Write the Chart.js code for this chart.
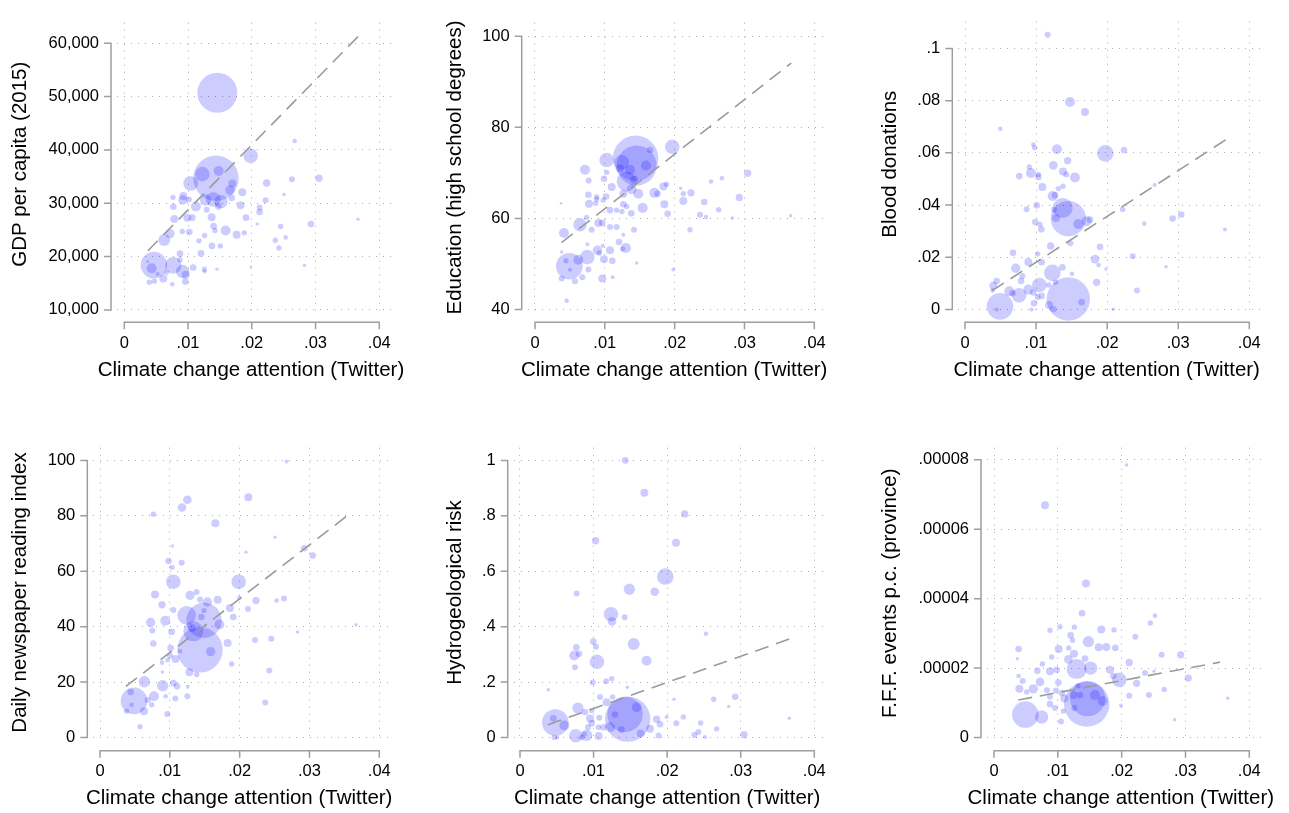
<!DOCTYPE html>
<html>
<head>
<meta charset="utf-8">
<script src="https://cdn.jsdelivr.net/npm/chart.js@4.4.0/dist/chart.umd.min.js"></script>
<style>
  body { margin: 0; background: #fff; }
  #wrap { position: relative; width: 1289px; height: 813px; overflow: hidden; background: #fff; }
  canvas { position: absolute; }
</style>
</head>
<body>
<div id="wrap">
  <canvas id="c1"></canvas><canvas id="c2"></canvas><canvas id="c3"></canvas>
  <canvas id="c4"></canvas><canvas id="c5"></canvas><canvas id="c6"></canvas>
</div>
<script>
// shared x axis
const attentionTicks = [0, 0.01, 0.02, 0.03, 0.04];
const xTitle = 'Climate change attention (Twitter)';

// GDP per capita
const gdpX = [0.01459,0.01438,0.01982,0.02672,0.03054,0.02630,0.02233,0.02505,0.01851,0.01694,
  0.01658,0.01480,0.01224,0.01041,0.00926,0.00763,0.00769,0.00920,0.01014,0.01124,
  0.01276,0.01396,0.01516,0.01684,0.01825,0.01475,0.01370,0.01292,0.01067,0.00988,
  0.00784,0.01909,0.02123,0.02123,0.02217,0.02086,0.02928,0.02452,0.02531,0.02369,
  0.02426,0.03666,0.01590,0.01762,0.01882,0.01401,0.01422,0.01260,0.01171,0.01375,
  0.01506,0.01203,0.01020,0.00910,0.00716,0.00627,0.00873,0.00873,0.00465,0.00429,
  0.00769,0.00915,0.00962,0.01082,0.01255,0.01260,0.01454,0.01982,0.02824,0.00612,
  0.00664,0.00392,0.00471,0.00753,0.00957,0.00366,0.00523];
const gdpY = [50700,34700,38900,41650,34700,34500,33800,31650,32050,33700,
  32450,36050,35450,33700,31350,31100,29350,30600,30700,29400,
  30600,30700,30300,31000,29600,29400,27350,28800,27300,27300,
  27050,27300,28350,29200,30550,26100,26100,25650,23600,23050,
  21600,27000,24900,24100,24450,25700,24900,23950,22950,22000,
  22000,20600,24600,24700,24300,23100,20550,19400,18400,17800,
  18350,17200,16600,17950,17650,17200,17650,18100,18350,15900,
  17050,15200,15400,14800,15300,19100,16750];
const gdpW = [1600,2061,213,21,55,36,55,12,64,64,
  88,100,213,213,64,29,44,88,36,100,
  130,213,180,44,64,44,64,36,44,64,
  64,44,44,36,36,12,44,29,21,29,
  29,12,100,64,29,44,29,29,29,44,
  29,44,44,29,88,144,44,29,708,100,
  276,180,64,44,29,16,12,7,12,64,
  29,29,29,21,44,7,16];
const gdpTicks = [10000, 20000, 30000, 40000, 50000, 60000];
const gdpFitX = [0.0037, 0.0368];
const gdpFitY = [21100, 61400];

// Education
const eduX = [0.01441,0.01456,0.01966,0.01026,0.01241,0.01217,0.01589,0.01647,0.01360,0.01422,
  0.01313,0.00716,0.00768,0.01026,0.00988,0.01098,0.01017,0.00978,0.00883,0.00869,
  0.00773,0.01265,0.01384,0.01480,0.01709,0.01756,0.01838,0.01885,0.01852,0.01542,
  0.01900,0.02086,0.02124,0.02124,0.02234,0.02425,0.02520,0.02678,0.03045,0.02926,
  0.02630,0.02363,0.02449,0.02826,0.03661,0.02220,0.01981,0.01456,0.01074,0.01169,
  0.01246,0.01265,0.01313,0.01379,0.01418,0.00740,0.00644,0.00811,0.00907,0.00964,
  0.01074,0.01169,0.01265,0.01203,0.01303,0.01255,0.01074,0.00969,0.00893,0.00921,
  0.00749,0.00988,0.01107,0.00749,0.00620,0.00492,0.00444,0.00501,0.00415,0.00372,
  0.00764,0.00678,0.00573,0.00382,0.00964,0.01112,0.00453,0.00382,0.00764,0.00883];
const eduY = [73.2,71.6,75.7,72.8,72.3,71.0,71.6,75.0,70.7,68.5,
  68.1,70.7,68.3,70.1,68.7,66.9,64.8,64.0,64.2,63.3,
  63.2,65.4,66.4,65.4,65.6,65.4,67.0,67.5,63.1,62.3,
  61.0,66.6,65.4,63.8,65.6,63.6,68.1,68.8,69.9,64.6,
  61.9,60.8,60.3,60.1,60.6,57.5,48.8,50.2,61.8,61.8,
  61.5,63.1,62.6,61.1,57.5,60.2,58.6,57.5,59.0,59.0,
  58.1,58.1,56.4,54.8,53.5,53.3,53.0,54.0,53.0,52.4,
  54.3,51.0,50.7,51.5,50.9,49.5,50.7,48.7,56.8,63.3,
  48.8,47.1,46.2,46.8,46.8,47.1,41.9,52.6,65.2,64.7];
const eduW = [2061,1600,213,213,213,64,100,44,100,64,
  400,100,36,29,44,64,44,29,29,29,
  64,64,100,100,100,44,64,29,64,100,
  44,12,29,64,54,44,21,21,54,54,
  29,36,21,12,12,29,16,12,44,29,
  29,44,29,44,36,29,178,36,64,44,
  36,36,16,44,100,29,64,16,88,29,
  16,64,44,213,100,708,29,16,100,7,
  36,36,36,36,64,16,21,12,44,29];
const eduTicks = [40, 60, 80, 100];
const eduFitX = [0.0038, 0.0367];
const eduFitY = [54.7, 94.1];

// Blood donations
const bloodX = [0.01454,0.01454,0.01374,0.00492,0.01974,0.01477,0.01688,0.01163,0.00497,0.01294,
  0.02237,0.00961,0.00980,0.01444,0.01243,0.01379,0.01547,0.01425,0.00928,0.01032,
  0.01032,0.00764,0.00905,0.01088,0.01313,0.01379,0.01233,0.01266,0.01008,0.00867,
  0.01252,0.01280,0.00989,0.01055,0.01074,0.01594,0.01711,0.01758,0.02218,0.02668,
  0.02921,0.03043,0.02523,0.03657,0.01205,0.01482,0.01899,0.00675,0.01022,0.00891,
  0.01078,0.01829,0.01880,0.01983,0.02359,0.02827,0.01229,0.01369,0.01505,0.00713,
  0.00807,0.00788,0.00445,0.00399,0.00389,0.00624,0.00670,0.00760,0.00891,0.01046,
  0.00961,0.01022,0.01078,0.00971,0.00938,0.01182,0.01243,0.01275,0.01641,0.01852,
  0.02420,0.02087,0.00445,0.01177];
const bloodY = [0.0040,0.0348,0.0389,0.0012,0.0598,0.0795,0.0756,0.1052,0.0692,0.0614,
  0.0611,0.0632,0.0620,0.0570,0.0552,0.0529,0.0506,0.0517,0.0523,0.0517,
  0.0507,0.0511,0.0546,0.0469,0.0463,0.0472,0.0435,0.0438,0.0399,0.0384,
  0.0382,0.0350,0.0335,0.0326,0.0307,0.0327,0.0338,0.0344,0.0383,0.0477,
  0.0348,0.0364,0.0329,0.0306,0.0243,0.0254,0.0240,0.0217,0.0213,0.0182,
  0.0181,0.0193,0.0170,0.0155,0.0204,0.0164,0.0140,0.0161,0.0137,0.0158,
  0.0128,0.0109,0.0109,0.0091,0.0073,0.0070,0.0062,0.0054,0.0076,0.0094,
  0.0065,0.0048,0.0052,0.0024,0.0000,0.0017,0.0001,0.0104,0.0028,0.0104,
  0.0073,0.0001,0.0000,0.0094];
const bloodW = [1878,1248,400,708,276,100,64,36,21,100,
  44,21,29,54,75,64,100,36,100,29,
  44,44,29,64,29,29,100,44,44,36,
  36,64,44,29,44,100,100,44,29,16,
  44,44,21,16,54,36,44,44,29,64,
  44,75,21,12,36,12,276,44,21,88,
  36,44,44,64,21,100,44,213,100,213,
  44,36,44,44,16,64,44,29,44,54,
  36,12,16,29];
const bloodTicks = [0, 0.02, 0.04, 0.06, 0.08, 0.1];
const bloodFitX = [0.0038, 0.0367];
const bloodFitY = [0.0072, 0.065];

// Daily newspaper reading index
const newsX = [0.01432,0.01489,0.01241,0.01336,0.01050,0.01986,0.01251,0.01174,0.02124,0.01651,
  0.00764,0.02673,0.02506,0.02090,0.02926,0.03045,0.01036,0.00983,0.01169,0.01031,
  0.00788,0.00888,0.00935,0.00725,0.00749,0.00764,0.01026,0.01050,0.01289,0.01384,
  0.01537,0.01685,0.01451,0.01709,0.01861,0.01909,0.01995,0.02234,0.02119,0.02530,
  0.02635,0.02220,0.02453,0.02830,0.03666,0.01828,0.01585,0.01885,0.02425,0.02367,
  0.01279,0.01384,0.01012,0.01002,0.01083,0.00969,0.00888,0.00893,0.01050,0.01103,
  0.01255,0.00897,0.00773,0.00940,0.01079,0.01251,0.00635,0.00487,0.00439,0.00382,
  0.00630,0.00740,0.00683,0.00964,0.00573,0.00453,0.01146,0.01313,0.01489,0.01432];
const newsY = [31.6,42.3,44.1,38.3,56.2,56.2,85.8,83.0,86.7,77.3,
  80.6,99.6,72.3,66.9,68.3,65.7,69.1,63.7,63.1,61.4,
  51.6,47.9,42.1,41.5,38.6,33.9,38.1,46.0,51.3,52.5,
  48.9,49.7,43.5,40.8,46.7,43.5,50.4,49.4,46.4,49.4,
  50.2,35.2,35.6,38.1,40.7,34.1,31.0,26.5,24.2,12.6,
  23.5,22.7,32.3,29.6,28.3,27.9,27.0,23.6,19.6,18.5,
  18.3,18.7,14.9,14.9,14.1,14.9,20.1,13.2,16.4,9.5,
  9.5,11.8,13.5,8.5,3.9,11.8,31.1,39.5,45.8,49.8];
const newsW = [2061,1250,348,400,213,213,75,75,64,64,
  29,16,12,12,44,44,12,44,36,29,
  64,54,100,88,36,44,44,36,88,36,
  88,64,44,100,64,44,21,54,36,21,
  36,36,36,12,12,64,88,29,36,36,
  64,29,44,36,64,21,21,12,44,44,
  16,128,100,21,36,36,128,708,44,29,
  64,29,36,36,29,21,21,64,29,36];
const newsTicks = [0, 20, 40, 60, 80, 100];
const newsFitX = [0.0037, 0.0357];
const newsFitY = [18.4, 80.6];

// Hydrogeological risk
const hydroX = [0.01463,0.01427,0.00480,0.00603,0.00453,0.00757,0.00906,0.01069,0.00788,0.00883,
  0.00951,0.00974,0.01065,0.01133,0.00874,0.00467,0.00385,0.00770,0.01431,0.01690,
  0.02238,0.01028,0.02120,0.01975,0.01486,0.01830,0.01237,0.01250,0.01422,0.02528,
  0.01545,0.00997,0.01033,0.00766,0.00738,0.00802,0.00747,0.01046,0.01721,0.00988,
  0.01169,0.01246,0.01459,0.01087,0.01259,0.01178,0.02093,0.02632,0.02926,0.02836,
  0.03660,0.01993,0.02220,0.01857,0.01903,0.01767,0.02125,0.02455,0.02673,0.02424,
  0.02369,0.02514,0.01884,0.03044,0.01586,0.01640,0.01223,0.01291,0.01078,0.00974,
  0.00507,0.00924,0.00838,0.01377];
const hydroY = [0.066,0.083,0.054,0.043,0.069,0.006,0.008,0.005,0.106,0.092,
  0.068,0.051,0.037,0.037,0.012,0.000,0.172,0.520,1.000,0.883,
  0.807,0.710,0.703,0.581,0.535,0.526,0.445,0.419,0.434,0.374,
  0.337,0.346,0.327,0.325,0.296,0.302,0.253,0.273,0.277,0.198,
  0.203,0.212,0.181,0.146,0.146,0.127,0.138,0.138,0.147,0.112,
  0.069,0.074,0.074,0.066,0.048,0.031,0.051,0.052,0.031,0.020,
  0.009,0.002,0.007,0.010,0.109,0.014,0.037,0.083,0.071,0.097,
  0.000,0.037,0.000,0.028];
const hydroW = [2061,1250,708,100,44,178,128,64,128,44,
  64,44,29,44,29,29,12,36,44,64,
  54,54,64,276,128,75,213,75,36,21,
  144,44,36,44,100,44,36,213,100,36,
  36,29,12,36,29,64,12,29,44,12,
  12,16,29,54,44,64,36,29,29,36,
  36,16,36,54,100,64,100,44,36,29,
  16,36,29,44];
const hydroTicks = [0, 0.2, 0.4, 0.6, 0.8, 1];
const hydroFitX = [0.0038, 0.0367];
const hydroFitY = [0.046, 0.356];

// F.F.F. events per capita (province)
const fffX = [0.01452,0.01467,0.00491,0.00747,0.00799,0.02078,0.01441,0.01379,0.02522,0.02449,
  0.01681,0.01880,0.01034,0.01259,0.00877,0.01478,0.01201,0.02214,0.01232,0.01640,
  0.01760,0.01901,0.00386,0.01013,0.01170,0.01253,0.01165,0.00903,0.00757,0.00982,
  0.00877,0.00679,0.00449,0.00721,0.00397,0.00616,0.00830,0.00971,0.00877,0.01102,
  0.01065,0.00877,0.00956,0.01086,0.01050,0.01259,0.01347,0.01243,0.01582,0.01702,
  0.01817,0.01870,0.01963,0.01990,0.02120,0.02120,0.02235,0.02366,0.02428,0.02507,
  0.02627,0.02668,0.02924,0.03044,0.02830,0.03661,0.01295,0.01514,0.01426,0.00386,
  0.00366,0.01008,0.00512,0.01316];
const fffY = [9.6e-6,1.12e-5,6.6e-6,5.9e-6,6.69e-5,7.85e-5,4.44e-5,3.58e-5,3.51e-5,3.30e-5,
  3.11e-5,3.10e-5,3.19e-5,3.18e-5,3.09e-5,2.76e-5,2.94e-5,2.90e-5,2.80e-5,2.60e-5,
  2.61e-5,2.58e-5,2.55e-5,2.55e-5,2.58e-5,2.41e-5,2.25e-5,2.32e-5,2.12e-5,1.95e-5,
  1.91e-5,1.92e-5,1.63e-5,1.60e-5,1.40e-5,1.40e-5,1.36e-5,1.35e-5,1.17e-5,1.12e-5,
  1.28e-5,9.6e-6,8.5e-6,7.6e-6,4.6e-6,8.5e-6,1.22e-5,1.22e-5,1.22e-5,1.05e-5,
  1.95e-5,1.77e-5,1.66e-5,9.2e-6,1.20e-5,2.16e-5,1.56e-5,1.86e-5,1.22e-5,1.91e-5,
  2.38e-5,1.38e-5,2.38e-5,1.71e-5,5.1e-6,1.13e-5,1.97e-5,2.00e-5,2.27e-5,1.77e-5,
  2.27e-5,1.58e-5,1.31e-5,1.49e-5];
const fffW = [2061,1250,708,178,64,12,64,44,21,29,
  64,29,29,29,29,128,44,36,29,64,
  64,44,44,64,29,64,75,29,29,44,
  64,44,36,75,64,88,36,36,36,64,
  44,44,36,29,36,36,44,64,100,100,
  64,44,213,16,36,54,54,36,36,12,
  36,29,54,54,12,12,400,178,44,21,
  12,44,29,29];
const fffTicks = [0, 0.00002, 0.00004, 0.00006, 0.00008];
const fffFitX = [0.0038, 0.0354];
const fffFitY = [1.08e-5, 2.17e-5];

const FONT = '"Liberation Sans", Arial, Helvetica, sans-serif';

function stataNum(v) {
  if (v === 0) return '0';
  if (Math.abs(v) >= 1000) return String(v).replace(/\B(?=(\d{3})+(?!\d))/g, ',');
  return String(+v.toPrecision(6)).replace(/^0\./, '.');
}

// Stata-style axis lines (offset from the plot region), ticks and titles
const stataAxes = {
  id: 'stataAxes',
  afterDraw(chart, args, opts) {
    const { ctx, chartArea: a, scales: { x, y } } = chart;
    const ax = a.left - 6, ay = a.bottom + 10;
    const yp = y.ticks.map(t => y.getPixelForValue(t.value));
    const xp = x.ticks.map(t => x.getPixelForValue(t.value));
    ctx.save();
    ctx.strokeStyle = '#9e9e9e';
    ctx.lineWidth = 1.5;
    ctx.beginPath();
    ctx.moveTo(ax, Math.min(...yp) - 0.75); ctx.lineTo(ax, Math.max(...yp) + 0.75);
    yp.forEach(p => { ctx.moveTo(ax - 7, p); ctx.lineTo(ax, p); });
    ctx.moveTo(Math.min(...xp) - 0.75, ay); ctx.lineTo(Math.max(...xp) + 0.75, ay);
    xp.forEach(p => { ctx.moveTo(p, ay); ctx.lineTo(p, ay + 7); });
    ctx.stroke();

    ctx.fillStyle = '#000';
    ctx.font = '20.5px ' + FONT;
    ctx.textAlign = 'center';
    ctx.textBaseline = 'middle';
    ctx.fillText(opts.xText, opts.xAt[0], opts.xAt[1]);
    ctx.translate(opts.yAt[0], opts.yAt[1]);
    ctx.rotate(-Math.PI / 2);
    ctx.fillText(opts.yText, 0, 0);
    ctx.restore();
  }
};

const panels = [
  { id: 'c1', box: [0, 0, 430, 400], area: [117, 5, 392, 312.3],
    xr: [-0.001145, 0.041992], yr: [9558, 63837], yTicks: gdpTicks,
    xAt: [251, 370.5], yAt: [20.7, 164.2], yText: 'GDP per capita (2015)',
    xs: gdpX, ys: gdpY, ws: gdpW, fx: gdpFitX, fy: gdpFitY },
  { id: 'c2', box: [430, 0, 430, 400], area: [527.7, 5, 826, 312.3],
    xr: [-0.001045, 0.041676], yr: [39.38, 102.96], yTicks: eduTicks,
    xAt: [674.2, 370.5], yAt: [455, 167.5], yText: 'Education (high school degrees)',
    xs: eduX, ys: eduY, ws: eduW, fx: eduFitX, fy: eduFitY },
  { id: 'c3', box: [860, 0, 429, 400], area: [958.3, 5, 1262, 312.3],
    xr: [-0.000943, 0.041787], yr: [-0.001087, 0.110254], yTicks: bloodTicks,
    xAt: [1106.7, 370.5], yAt: [890, 164.2], yText: 'Blood donations',
    xs: bloodX, ys: bloodY, ws: bloodW, fx: bloodFitX, fy: bloodFitY },
  { id: 'c4', box: [0, 425, 430, 388], area: [93.3, 435, 392, 740.7],
    xr: [-0.00096, 0.041819], yr: [-1.176, 104.6], yTicks: newsTicks,
    xAt: [239.2, 798.3], yAt: [20, 592.5], yText: 'Daily newspaper reading index',
    xs: newsX, ys: newsY, ws: newsW, fx: newsFitX, fy: newsFitY },
  { id: 'c5', box: [430, 425, 430, 388], area: [513.7, 435, 826, 740.7],
    xr: [-0.000856, 0.04159], yr: [-0.01176, 1.046], yTicks: hydroTicks,
    xAt: [667.2, 798.3], yAt: [455, 592.5], yText: 'Hydrogeological risk',
    xs: hydroX, ys: hydroY, ws: hydroW, fx: hydroFitX, fy: hydroFitY },
  { id: 'c6', box: [860, 425, 429, 388], area: [987, 435, 1262, 740.7],
    xr: [-0.001097, 0.04199], yr: [-9.39e-7, 8.3508e-5], yTicks: fffTicks,
    xAt: [1120.8, 798.3], yAt: [890.8, 593.3], yText: 'F.F.F. events p.c. (province)',
    xs: fffX, ys: fffY, ws: fffW, fx: fffFitX, fy: fffFitY }
];

panels.forEach(p => {
  const [cl, ct, cw, ch] = p.box;
  const [L, T, R, B] = p.area;
  const canvas = document.getElementById(p.id);
  canvas.width = cw; canvas.height = ch;
  canvas.style.left = cl + 'px'; canvas.style.top = ct + 'px';

  const bubbles = p.xs.map((x, i) => ({ x: x, y: p.ys[i], r: 0.5 * Math.sqrt(p.ws[i]) }));
  const fit = p.fx.map((x, i) => ({ x: x, y: p.fy[i] }));

  new Chart(canvas, {
    type: 'bubble',
    data: {
      datasets: [
        { type: 'line', data: fit, order: 0, borderColor: '#9a9a9a', borderWidth: 1.6,
          borderDash: [14, 8], pointRadius: 0, fill: false, tension: 0, clip: false },
        { type: 'bubble', data: bubbles, order: 1, backgroundColor: 'rgba(0,0,255,0.2)',
          borderWidth: 0, hoverBorderWidth: 0, clip: false }
      ]
    },
    options: {
      responsive: false, animation: false, events: [], devicePixelRatio: 1,
      layout: { padding: { left: 0, top: T - ct, right: cl + cw - R, bottom: 0 } },
      plugins: {
        legend: { display: false }, tooltip: { enabled: false },
        stataAxes: { xText: xTitle, yText: p.yText,
          xAt: [p.xAt[0] - cl, p.xAt[1] - ct], yAt: [p.yAt[0] - cl, p.yAt[1] - ct] }
      },
      scales: {
        x: {
          type: 'linear', position: 'bottom', bounds: 'data', min: p.xr[0], max: p.xr[1],
          afterBuildTicks: s => { s.ticks = attentionTicks.map(v => ({ value: v })); },
          afterFit: s => { s.height = ct + ch - B; s.paddingLeft = 0; s.paddingRight = 0; },
          grid: { color: '#ababab', lineWidth: 1, drawTicks: false },
          border: { display: false, dash: [1, 6] },
          ticks: { padding: 21, color: '#000', maxRotation: 0, autoSkip: false,
            font: { family: FONT, size: 16.5 }, callback: v => stataNum(v) }
        },
        y: {
          type: 'linear', position: 'left', bounds: 'data', min: p.yr[0], max: p.yr[1],
          afterBuildTicks: s => { s.ticks = p.yTicks.map(v => ({ value: v })); },
          afterFit: s => { s.width = L - cl; s.paddingTop = 0; s.paddingBottom = 0; },
          grid: { color: '#ababab', lineWidth: 1, drawTicks: false },
          border: { display: false, dash: [1, 6] },
          ticks: { padding: 18, color: '#000', autoSkip: false,
            font: { family: FONT, size: 16.5 }, callback: v => stataNum(v) }
        }
      }
    },
    plugins: [stataAxes]
  });
});
</script>
</body>
</html>
